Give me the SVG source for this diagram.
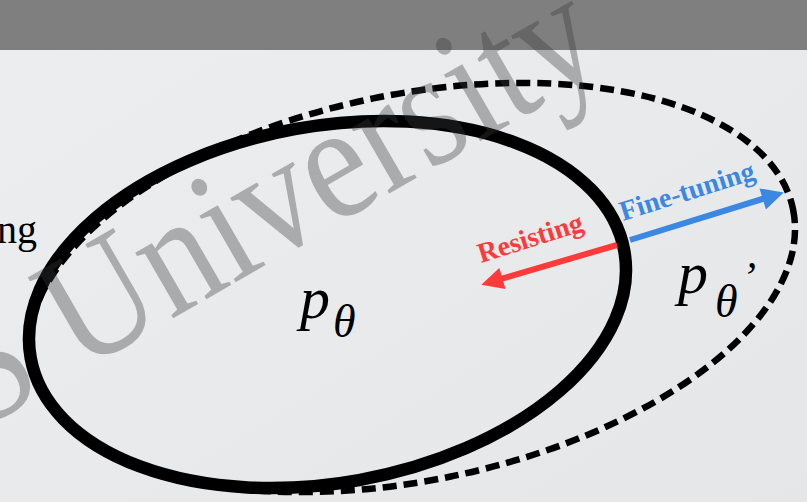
<svg xmlns="http://www.w3.org/2000/svg" width="807" height="502" viewBox="0 0 807 502">
<defs>
<linearGradient id="bg" x1="0" y1="0" x2="1" y2="1">
<stop offset="0" stop-color="#eceef0"/>
<stop offset="1" stop-color="#e4e6e8"/>
</linearGradient>
<marker id="ahRed" viewBox="0 0 10 10" refX="2" refY="5" markerWidth="24" markerHeight="22" markerUnits="userSpaceOnUse" orient="auto">
<path d="M0,0 L10,5 L0,10 z" fill="#ff3a3a"/>
</marker>
<marker id="ahBlue" viewBox="0 0 10 10" refX="2" refY="5" markerWidth="24" markerHeight="22" markerUnits="userSpaceOnUse" orient="auto">
<path d="M0,0 L10,5 L0,10 z" fill="#3a88e2"/>
</marker>
</defs>
<style>
.lbl{font-family:"Liberation Serif","Times New Roman",serif;font-weight:bold;font-size:28px}
.math{font-family:"Liberation Serif","Times New Roman",serif;font-style:italic;fill:#000}
.wm{font-family:"Liberation Serif","Times New Roman",serif;font-size:165px;fill:#3a3a3a;fill-opacity:0.36}
</style>
<rect x="0" y="0" width="807" height="502" fill="url(#bg)"/>
<rect x="0" y="0" width="807" height="50" fill="#7f7f7f"/>
<text x="37" y="243" text-anchor="end" style="font-family:'Liberation Serif','Times New Roman',serif;font-size:40px;fill:#000">ng</text>
<g id="finetuned">
<ellipse cx="412" cy="287.5" rx="389" ry="193" transform="rotate(-11.6 412 287.5)" fill="none" stroke="#000" stroke-width="6.5" stroke-dasharray="14 7"/>
</g>
<g id="original">
<ellipse cx="327.5" cy="304.5" rx="301.6" ry="178.4" transform="rotate(-10.2 327.5 304.5)" fill="none" stroke="#000" stroke-width="12.5"/>
</g>
<g id="connectors">
<line x1="617" y1="245" x2="498.2" y2="279.7" stroke="#ff3a3a" stroke-width="6" marker-end="url(#ahRed)"/>
<line x1="630" y1="240" x2="766.9" y2="197.6" stroke="#3a88e2" stroke-width="6" marker-end="url(#ahBlue)"/>
<text class="lbl" fill="#ff3a3a" transform="translate(481 263) rotate(-17.5)">Resisting</text>
<text class="lbl" fill="#3a88e2" transform="translate(623 221) rotate(-17.5)">Fine-tuning</text>
</g>
<g id="label-p-theta">
<text class="math" x="300" y="318" font-size="60">p</text>
<text class="math" x="333" y="337" font-size="46">θ</text>
</g>
<g id="label-p-theta-prime">
<text class="math" x="678" y="293" font-size="60">p</text>
<text class="math" x="715" y="317" font-size="46">θ</text>
<text class="math" x="742" y="291" font-size="42">’</text>
</g>
<text class="wm" transform="translate(-22 431) rotate(-30) scale(0.88 1)">S University</text>
</svg>
